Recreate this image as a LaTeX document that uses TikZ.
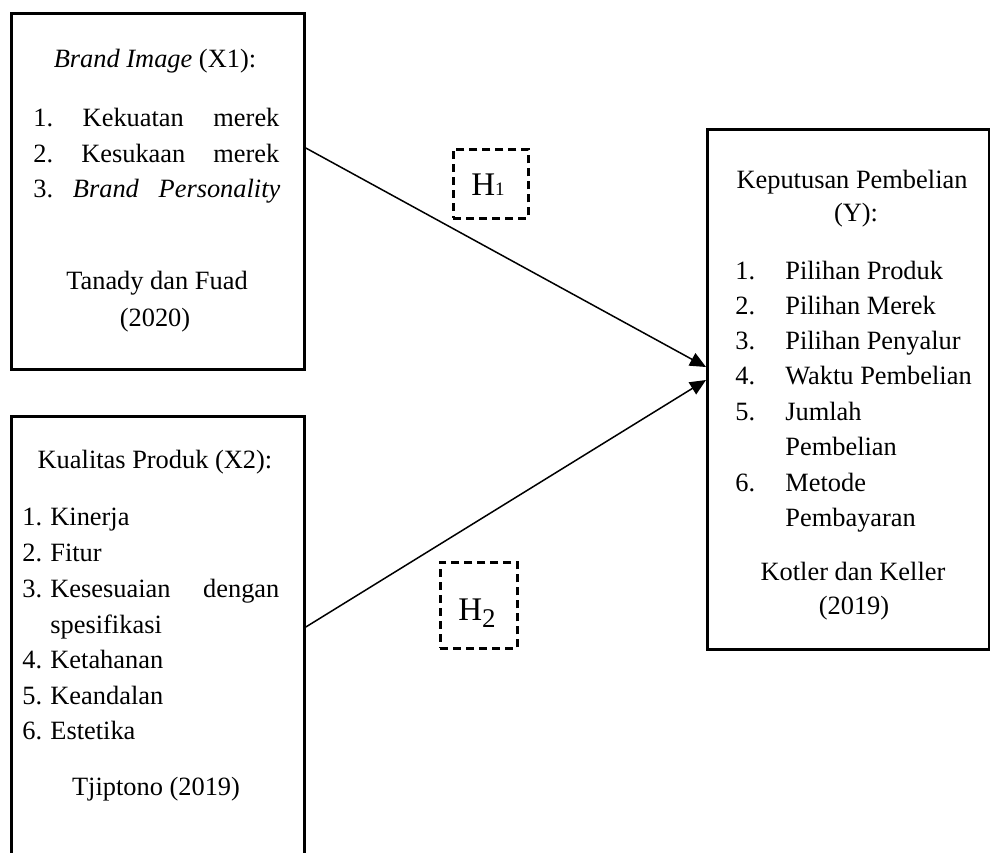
\documentclass[tikz,border=0pt]{standalone}
\usepackage{fontspec}
\setmainfont{Liberation Serif}
\usetikzlibrary{arrows.meta,calc}
\begin{document}
\begin{tikzpicture}[x=0.5pt,y=-0.5pt,
  box/.style={draw,line width=1.4pt,rectangle,anchor=north west,inner sep=0pt},
  hypbox/.style={draw,line width=1.3pt,dash pattern=on 4pt off 2.5pt,rectangle,anchor=north west,inner sep=0pt},
  txt/.style={anchor=base,inner sep=0pt,font=\fontsize{13.2}{16}\selectfont},
  txtl/.style={txt,anchor=base west},
  hlab/.style={anchor=base,inner sep=0pt,font=\fontsize{16.5}{18}\selectfont},
  arr/.style={line width=0.75pt,-{Triangle[length=8pt,width=7pt]}}]
\useasboundingbox (0,0) rectangle (990,852);
% boxes
\node[box,minimum width=146.5pt,minimum height=178pt] (x1) at (10,12) {};
\node[box,minimum width=146.5pt,minimum height=232.5pt] (x2) at (10,415) {};
\node[box,minimum width=141pt,minimum height=260pt] (y) at (706,128) {};
\node[hypbox,minimum width=37.5pt,minimum height=34.5pt] (h1) at (452,148) {};
\node[hypbox,minimum width=38.5pt,minimum height=43pt] (h2) at (439,561) {};
% box 1 text
\node[txt] (x1t) at (155,67) {\textit{Brand Image} (X1):};
\node[txtl] (x1a) at (33,126) {\hbox to 123pt{1.\hfill Kekuatan\hfill merek}};
\node[txtl] (x1b) at (33,162) {\hbox to 123pt{2.\hfill Kesukaan\hfill merek}};
\node[txtl] (x1c) at (33,197) {\hbox to 123.5pt{3.\hfill \textit{Brand}\hfill \textit{Personality}}};
\node[txt] (x1s) at (157,289) {Tanady dan Fuad};
\node[txt] (x1y) at (155,326) {(2020)};
% box 2 text
\node[txt] (x2t) at (155,468) {Kualitas Produk (X2):};
\node[txtl] (x2a) at (22,525) {\makebox[14pt][l]{1.}Kinerja};
\node[txtl] (x2b) at (22,561) {\makebox[14pt][l]{2.}Fitur};
\node[txtl] (x2c) at (22,597) {\hbox to 128.5pt{\makebox[14pt][l]{3.}Kesesuaian\hfill dengan}};
\node[txtl] (x2c2) at (50,633) {spesifikasi};
\node[txtl] (x2d) at (22,668.5) {\makebox[14pt][l]{4.}Ketahanan};
\node[txtl] (x2e) at (22,704) {\makebox[14pt][l]{5.}Keandalan};
\node[txtl] (x2f) at (22,739.5) {\makebox[14pt][l]{6.}Estetika};
\node[txt] (x2s) at (156,795) {Tjiptono (2019)};
% box Y text
\node[txt] (yt) at (852,188) {Keputusan Pembelian};
\node[txt] (yt2) at (856,221) {(Y):};
\node[txtl] (ya) at (735,279) {\makebox[25pt][l]{1.}Pilihan Produk};
\node[txtl] (yb) at (735,314) {\makebox[25pt][l]{2.}Pilihan Merek};
\node[txtl] (yc) at (735,349) {\makebox[25pt][l]{3.}Pilihan Penyalur};
\node[txtl] (yd) at (735,384) {\makebox[25pt][l]{4.}Waktu Pembelian};
\node[txtl] (ye) at (735,420) {\makebox[25pt][l]{5.}Jumlah};
\node[txtl] (ye2) at (785,455) {Pembelian};
\node[txtl] (yf) at (735,491) {\makebox[25pt][l]{6.}Metode};
\node[txtl] (yf2) at (785,526) {Pembayaran};
\node[txt] (ys) at (853,580) {Kotler dan Keller};
\node[txt] (yy) at (854,614) {(2019)};
% hypothesis labels
\node[hlab] (h1t) at (488,195) {H{\fontsize{9.5}{10}\selectfont 1}};
\node[hlab] (h2t) at (477,620) {H\raisebox{-3.5pt}{\fontsize{13.5}{14}\selectfont 2}};
% connectors
\draw[arr] ($(x1.north east)+(0,136)$) -- ($(y.north west)+(0,239)$);
\draw[arr] ($(x2.north east)+(0,212)$) -- ($(y.north west)+(0,252)$);
\end{tikzpicture}
\end{document}
